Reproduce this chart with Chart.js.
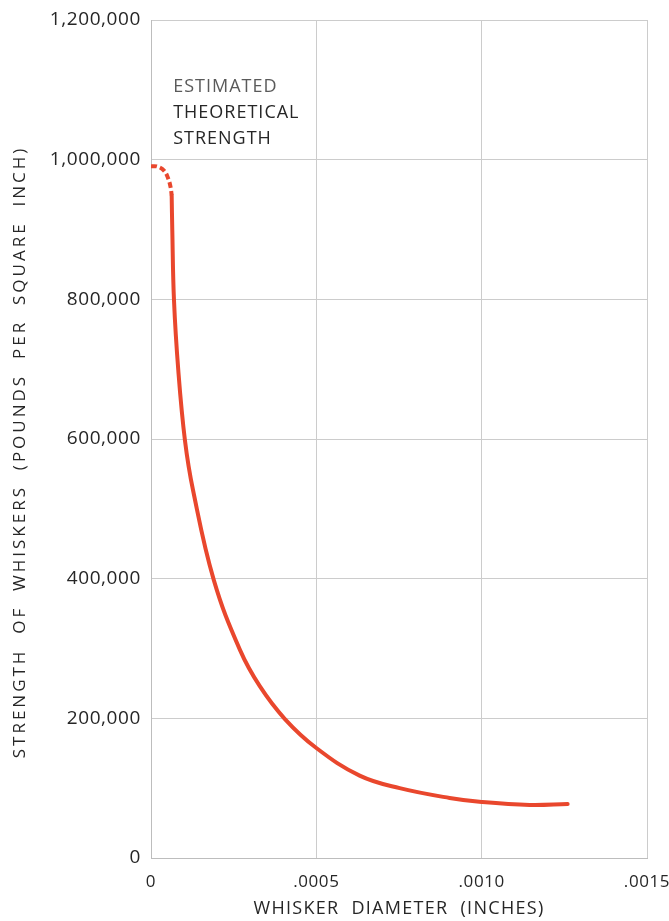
<!DOCTYPE html>
<html>
<head>
<meta charset="utf-8">
<script src="https://cdn.jsdelivr.net/npm/chart.js@4.4.1/dist/chart.umd.min.js"></script>
<style>
  html, body { margin: 0; padding: 0; background: #ffffff; }
  #wrap { width: 669px; height: 921px; position: relative; }
</style>
</head>
<body>
<div id="wrap"><canvas id="chart" width="669" height="921"></canvas></div>
<script>
// Whisker diameter (inches) and strength (psi), measured curve
const diameterMeasured = [0.0000625, 0.0000644, 0.0000695, 0.0000825, 0.0001027, 0.000127, 0.00019, 0.000269, 0.000329, 0.000405, 0.0005, 0.000631, 0.000752, 0.000903, 0.001, 0.001145, 0.00126];
const strengthMeasured = [949000, 899000, 799000, 698600, 598000, 527000, 398000, 298000, 246000, 199000, 157500, 118000, 100000, 86000, 80200, 75900, 77300];

// Dashed extension toward the estimated theoretical strength
const diameterTheory = [0, 0.00002, 0.00004, 0.000052, 0.0000595, 0.0000625];
const strengthTheory = [990700, 990000, 984000, 973000, 960000, 949000];

// Axis ticks
const xTicks = [0, 0.0005, 0.0010, 0.0015];
const xTickLabels = ['0', '.0005', '.0010', '.0015'];
const yTicks = [0, 200000, 400000, 600000, 800000, 1000000, 1200000];

const xTitle = 'WHISKER  DIAMETER  (INCHES)';
const yTitle = 'STRENGTH  OF  WHISKERS  (POUNDS  PER  SQUARE  INCH)';
const annotationLines = ['ESTIMATED', 'THEORETICAL', 'STRENGTH'];

const FONT = '"Open Sans", "DejaVu Sans", sans-serif';
const RED = '#e9472d';
const GRID = '#cccccc';
const INK = '#262626';

const toPoints = (xs, ys) => xs.map((x, i) => ({ x, y: ys[i] }));

// Spaced lettering for tick labels, axis titles and the note
const letteringPlugin = {
  id: 'lettering',
  beforeDraw(chart) {
    chart.ctx.letterSpacing = '0.6px';
  },
  afterDraw(chart) {
    const { ctx, scales, chartArea } = chart;
    ctx.save();
    ctx.fillStyle = INK;
    ctx.textBaseline = 'middle';

    // x axis title
    ctx.letterSpacing = '1.3px';
    ctx.font = '18px ' + FONT;
    ctx.textAlign = 'center';
    ctx.fillText(xTitle, (chartArea.left + chartArea.right) / 2, 909);

    // y axis title
    ctx.save();
    ctx.letterSpacing = '3px';
    ctx.font = '17px ' + FONT;
    ctx.translate(20, 452);
    ctx.rotate(-Math.PI / 2);
    ctx.fillText(yTitle, 0, 0);
    ctx.restore();

    // note beside the top of the curve
    const x = scales.x.getPixelForValue(0.000067);
    const y0 = scales.y.getPixelForValue(1104000);
    ctx.letterSpacing = '1px';
    ctx.font = '18px ' + FONT;
    ctx.textAlign = 'left';
    annotationLines.forEach((t, i) => {
      ctx.fillStyle = i === 0 ? '#5a5a5a' : INK;
      ctx.fillText(t, x, y0 + i * 26);
    });
    ctx.restore();
    ctx.letterSpacing = '0px';
  }
};

new Chart(document.getElementById('chart'), {
  type: 'scatter',
  data: {
    datasets: [
      {
        data: toPoints(diameterMeasured, strengthMeasured),
        showLine: true,
        borderColor: RED,
        borderWidth: 4,
        pointRadius: 0,
        tension: 0.4,
        borderCapStyle: 'round'
      },
      {
        data: toPoints(diameterTheory, strengthTheory),
        showLine: true,
        borderColor: RED,
        borderWidth: 4,
        borderDash: [6, 3],
        pointRadius: 0,
        tension: 0.4
      }
    ]
  },
  options: {
    responsive: false,
    animation: false,
    layout: { padding: { top: 20, right: 22, left: 0, bottom: 0 } },
    plugins: { legend: { display: false }, tooltip: { enabled: false } },
    scales: {
      x: {
        type: 'linear',
        min: 0,
        max: 0.0015,
        afterBuildTicks(scale) { scale.ticks = xTicks.map(v => ({ value: v })); },
        afterFit(scale) {
          scale.height = 63;
          scale.paddingLeft = 0;
          scale.paddingRight = 0;
        },
        ticks: {
          callback: (v) => { const i = xTicks.findIndex(t => Math.abs(t - v) < 1e-9); return i >= 0 ? xTickLabels[i] : ''; },
          color: INK,
          font: { family: FONT, size: 17 },
          padding: 14,
          maxRotation: 0
        },
        grid: { color: GRID, lineWidth: 1, drawTicks: false },
        border: { color: '#bdbdbd', width: 1 }
      },
      y: {
        type: 'linear',
        min: 0,
        max: 1200000,
        afterBuildTicks(scale) { scale.ticks = yTicks.map(v => ({ value: v })); },
        afterFit(scale) {
          scale.width = 151;
          scale.paddingTop = 0;
          scale.paddingBottom = 0;
        },
        ticks: {
          callback: (v) => v.toLocaleString('en-US'),
          color: INK,
          font: { family: FONT, size: 19 },
          padding: 10
        },
        grid: { color: GRID, lineWidth: 1, drawTicks: false },
        border: { color: '#bdbdbd', width: 1 }
      }
    }
  },
  plugins: [letteringPlugin]
});
</script>
</body>
</html>
